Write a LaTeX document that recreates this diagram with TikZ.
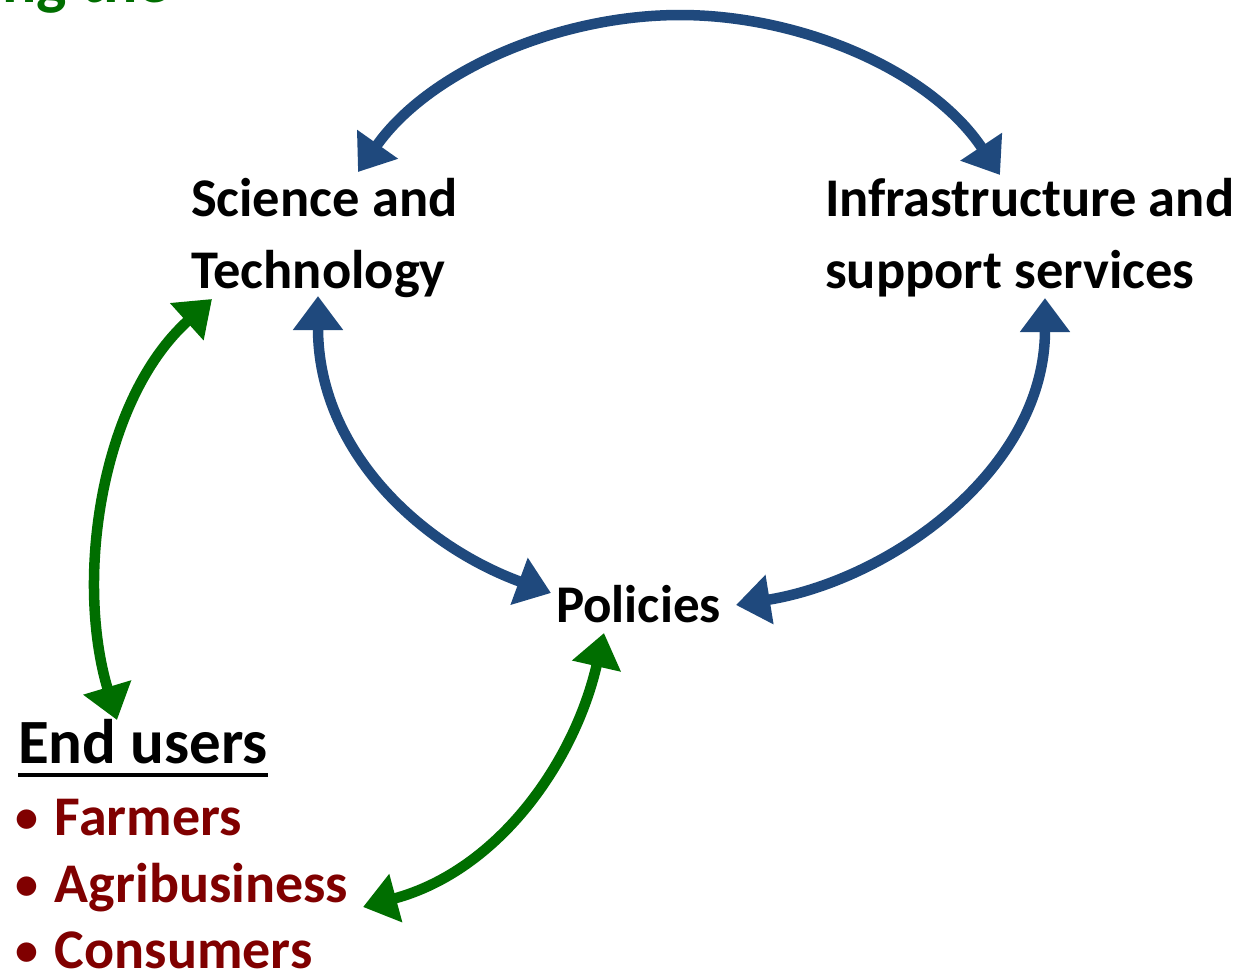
\documentclass[tikz,border=0pt]{standalone}
\usepackage{fontspec}
\setmainfont{Carlito}
\usetikzlibrary{arrows.meta,calc}
\definecolor{arblue}{RGB}{31,73,125}
\definecolor{argreen}{RGB}{0,110,0}
\definecolor{listred}{RGB}{128,0,0}
\newcommand{\bul}{\makebox[39pt][l]{\raisebox{3pt}{\fontsize{46}{46}\selectfont •}}}
\tikzset{
  lbl/.style={inner sep=0pt, outer sep=0pt, anchor=base west, font=\fontsize{54.5}{66}\selectfont\bfseries},
  litem/.style={lbl, text=listred, font=\fontsize{56}{66}\selectfont\bfseries},
  blink/.style={draw=arblue, line width=10.5pt, {Triangle[length=34pt,width=48pt]}-{Triangle[length=34pt,width=48pt]}},
  glink/.style={blink, draw=argreen},
}
\begin{document}
\begin{tikzpicture}[x=1pt,y=-1pt]
\useasboundingbox (0,0) rectangle (1248,972);
\clip (0,0) rectangle (1248,972);
\fill[white] (0,0) rectangle (1248,972);
% cut-off title
\node[lbl, text=argreen, font=\fontsize{64}{70}\selectfont\bfseries] (title) at (2,2) {ng the};
% labels
\node[lbl] (sci1) at (191,216) {Science and};
\node[lbl] (sci2) at (191,288) {Technology};
\node[lbl] (inf1) at (825,216) {Infrastructure and};
\node[lbl] (inf2) at (825,288) {support services};
\node[lbl, font=\fontsize{53}{66}\selectfont\bfseries] (pol) at (556,622) {Policies};
\node[lbl, font=\fontsize{63}{70}\selectfont\bfseries] (eu) at (18,763) {End users};
\draw[line width=4pt] ($(eu.base west)+(0,12)$) -- ($(eu.base east)+(0,12)$);
\node[litem] (far) at (16,835) {\bul Farmers};
\node[litem] (agr) at (16,902) {\bul Agribusiness};
\node[litem] (con) at (16,968) {\bul Consumers};
% connector end points
\coordinate (sciTop) at (358,172);
\coordinate (infTop) at (1000,175);
\coordinate (sciBot) at (318,296);
\coordinate (sciBotL) at (212,299);
\coordinate (infBot) at (1045,298);
\coordinate (polL) at (551,593);
\coordinate (polR) at (736,605);
\coordinate (polB) at (604,633);
\coordinate (euTop) at (117,720);
\coordinate (agrR) at (363,907);
% connectors
\draw[blink] (sciTop) .. controls (430,70) and (560,15) .. (680,15) .. controls (800,15) and (930,70) .. (infTop);
\draw[blink] (sciBot) .. controls (318,450) and (420,545) .. (polL);
\draw[blink] (infBot) .. controls (1045,470) and (890,580) .. (polR);
\draw[glink] (sciBotL) .. controls (100,400) and (75,580) .. (euTop);
\draw[glink] (polB) .. controls (575,760) and (500,870) .. (agrR);
\end{tikzpicture}
\end{document}
